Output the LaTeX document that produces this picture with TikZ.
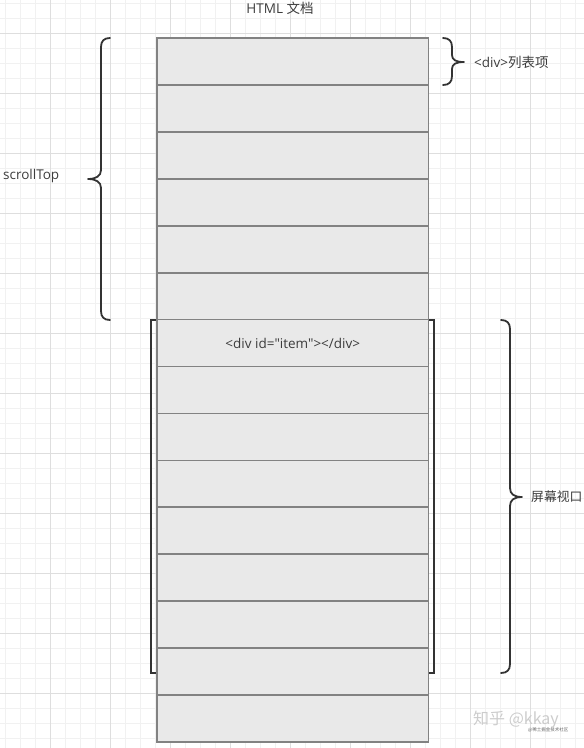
\documentclass[tikz,border=0pt]{standalone}
\usepackage{fontspec}
\setmainfont{Open Sans}[Ligatures=TeXOff]
\newfontfamily\cjk{Noto Sans CJK SC}[Ligatures=TeXOff]
\usetikzlibrary{positioning}

\definecolor{gridminor}{HTML}{F1F1F1}
\definecolor{gridmajor}{HTML}{DEDEDE}
\definecolor{rowfill}{HTML}{E9E9E9}
\definecolor{rowline}{HTML}{828282}
\definecolor{ink}{HTML}{333333}
\definecolor{textink}{HTML}{3C3C3C}

\tikzset{
  rowbox/.style={draw=rowline, fill=rowfill, line width=1.7pt,
    minimum width=271.5pt, minimum height=46.93pt, inner sep=0pt,
    font=\fontsize{13.5}{15}\selectfont, text=textink},
  bracepath/.style={draw=ink, line width=1.8pt, line cap=round, line join=round},
  label/.style={font=\fontsize{13.5}{15}\selectfont, text=textink, inner sep=0pt},
}

\begin{document}
\begin{tikzpicture}[x=1pt, y=-1pt]

  \def\rh{46.93}  % row height
  \def\top{38}    % top of the first row

  \useasboundingbox (0,0) rectangle (584,748);

  % ----------------------------------------------------------------
  % background grid
  % ----------------------------------------------------------------
  \foreach \x in {5,20,...,584} {
    \draw[gridminor, line width=0.8pt] (\x,0) -- (\x,748);
  }
  \foreach \y in {3,18,...,748} {
    \draw[gridminor, line width=0.8pt] (0,\y) -- (584,\y);
  }
  \foreach \x in {50,110,...,584} {
    \draw[gridmajor, line width=0.8pt] (\x,0) -- (\x,748);
  }
  \foreach \y in {33,93,...,748} {
    \draw[gridmajor, line width=0.8pt] (0,\y) -- (584,\y);
  }

  % ----------------------------------------------------------------
  % viewport bracket (behind the rows)
  % ----------------------------------------------------------------
  \draw[ink, line width=1.8pt] (151,320) rectangle (434,673);

  % ----------------------------------------------------------------
  % list items
  % ----------------------------------------------------------------
  \foreach \i in {1,...,15} {
    \node[rowbox] (r\i) at (292.75,{\top+(\i-0.5)*\rh}) {};
  }
  \node[label] (item) at (r7) {<div id="item"></div>};

  % title
  \node[label] (title) at (280,8) {HTML {\cjk 文档}};

  % ----------------------------------------------------------------
  % braces
  % ----------------------------------------------------------------
  % scrollTop, left of rows 1--6
  \draw[bracepath] (110,38) .. controls (104,38) and (101,41) .. (101,47)
    -- (101,170) .. controls (101,176) and (96,179) .. (88,179)
    .. controls (96,179) and (101,182) .. (101,188)
    -- (101,311) .. controls (101,317) and (104,320) .. (110,320);
  \node[label, anchor=west] (scroll) at (3,176) {scrollTop};

  % one list item
  \draw[bracepath] (443,38) .. controls (449,38) and (452,41) .. (452,47)
    -- (452,55) .. controls (452,60) and (456,62) .. (464,62)
    .. controls (456,62) and (452,64) .. (452,69)
    -- (452,76) .. controls (452,82) and (449,85) .. (443,85);
  \node[label, anchor=west] (one) at (474,62) {<div>{\cjk 列表项}};

  % screen viewport
  \draw[bracepath] (501,320) .. controls (507,320) and (510,323) .. (510,329)
    -- (510,488) .. controls (510,494) and (514,497) .. (522,497)
    .. controls (514,497) and (510,500) .. (510,506)
    -- (510,664) .. controls (510,670) and (507,673) .. (501,673);
  \node[label, anchor=west, font=\fontsize{12.8}{15}\selectfont] (screen)
    at (531,497) {\cjk 屏幕视口};

  % watermark
  \node[font=\fontsize{16}{18}\selectfont\cjk, text=black!20, anchor=west, inner sep=0pt]
    (mark) at (473,720) {知乎 @kkay};
  \node[font=\fontsize{4.5}{5}\selectfont\cjk, text=black!60, anchor=west, inner sep=0pt]
    (mark2) at (528,730) {@稀土掘金技术社区};

\end{tikzpicture}
\end{document}
